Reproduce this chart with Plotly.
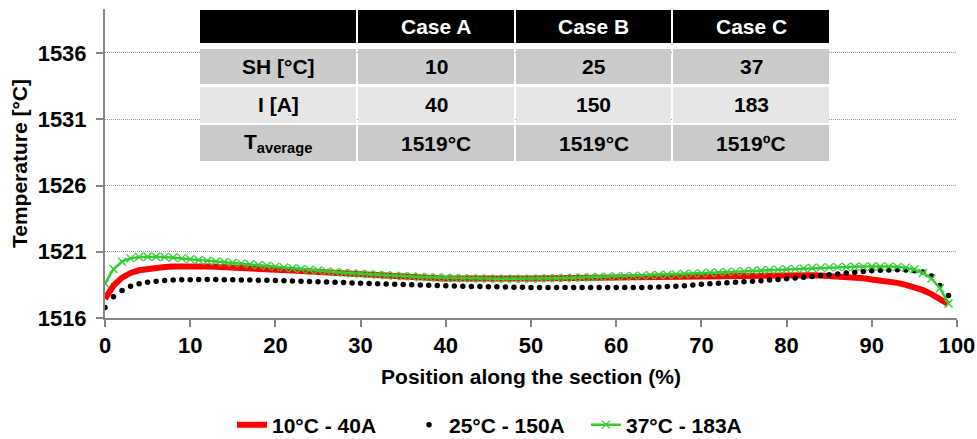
import plotly.graph_objects as go

# ---------------- data ----------------
position = list(range(0, 100))

temp_10C_40A = [
    1517.45, 1518.45, 1519.05, 1519.40, 1519.60, 1519.72, 1519.80, 1519.85, 1519.88, 1519.90,
    1519.90, 1519.90, 1519.88, 1519.86, 1519.84, 1519.82, 1519.79, 1519.76, 1519.73, 1519.70,
    1519.66, 1519.62, 1519.58, 1519.54, 1519.50, 1519.46, 1519.42, 1519.38, 1519.34, 1519.30,
    1519.26, 1519.22, 1519.19, 1519.16, 1519.13, 1519.10, 1519.07, 1519.04, 1519.02, 1519.00,
    1518.98, 1518.97, 1518.96, 1518.95, 1518.95, 1518.95, 1518.95, 1518.96, 1518.97, 1518.98,
    1518.99, 1519.00, 1519.01, 1519.02, 1519.03, 1519.04, 1519.05, 1519.06, 1519.07, 1519.08,
    1519.09, 1519.10, 1519.11, 1519.12, 1519.13, 1519.14, 1519.15, 1519.16, 1519.17, 1519.18,
    1519.19, 1519.20, 1519.21, 1519.22, 1519.23, 1519.24, 1519.25, 1519.25, 1519.26, 1519.26,
    1519.26, 1519.25, 1519.24, 1519.23, 1519.21, 1519.19, 1519.16, 1519.12, 1519.07, 1519.00,
    1518.90, 1518.83, 1518.75, 1518.65, 1518.50, 1518.33, 1518.10, 1517.80, 1517.45, 1517.05,
]

temp_25C_150A = [
    1516.80, 1517.60, 1518.08, 1518.40, 1518.58, 1518.70, 1518.78, 1518.83, 1518.86, 1518.88,
    1518.89, 1518.90, 1518.90, 1518.90, 1518.89, 1518.88, 1518.87, 1518.86, 1518.85, 1518.84,
    1518.83, 1518.81, 1518.79, 1518.77, 1518.75, 1518.73, 1518.71, 1518.69, 1518.67, 1518.65,
    1518.63, 1518.61, 1518.59, 1518.57, 1518.55, 1518.53, 1518.51, 1518.49, 1518.47, 1518.45,
    1518.43, 1518.41, 1518.40, 1518.38, 1518.37, 1518.36, 1518.35, 1518.34, 1518.33, 1518.32,
    1518.31, 1518.30, 1518.30, 1518.30, 1518.30, 1518.30, 1518.30, 1518.30, 1518.30, 1518.30,
    1518.30, 1518.30, 1518.30, 1518.31, 1518.32, 1518.34, 1518.37, 1518.40, 1518.44, 1518.49,
    1518.54, 1518.58, 1518.62, 1518.66, 1518.70, 1518.74, 1518.78, 1518.82, 1518.86, 1518.91,
    1518.96, 1519.02, 1519.08, 1519.14, 1519.20, 1519.27, 1519.33, 1519.39, 1519.45, 1519.51,
    1519.56, 1519.60, 1519.63, 1519.64, 1519.62, 1519.57, 1519.47, 1519.17, 1518.46, 1517.70,
]

temp_37C_183A = [
    1518.60, 1519.70, 1520.25, 1520.50, 1520.60, 1520.62, 1520.62, 1520.60, 1520.56, 1520.50,
    1520.44, 1520.38, 1520.32, 1520.27, 1520.22, 1520.17, 1520.12, 1520.06, 1520.00, 1519.94,
    1519.88, 1519.82, 1519.76, 1519.70, 1519.64, 1519.58, 1519.52, 1519.47, 1519.42, 1519.38,
    1519.34, 1519.30, 1519.26, 1519.22, 1519.19, 1519.16, 1519.13, 1519.10, 1519.08, 1519.06,
    1519.04, 1519.02, 1519.00, 1518.99, 1518.98, 1518.97, 1518.96, 1518.96, 1518.96, 1518.96,
    1518.97, 1518.98, 1518.99, 1519.00, 1519.02, 1519.04, 1519.06, 1519.08, 1519.10, 1519.12,
    1519.14, 1519.16, 1519.18, 1519.20, 1519.22, 1519.24, 1519.26, 1519.29, 1519.32, 1519.35,
    1519.38, 1519.41, 1519.44, 1519.47, 1519.50, 1519.53, 1519.56, 1519.59, 1519.62, 1519.65,
    1519.68, 1519.71, 1519.74, 1519.77, 1519.80, 1519.82, 1519.84, 1519.86, 1519.87, 1519.88,
    1519.89, 1519.89, 1519.88, 1519.86, 1519.80, 1519.68, 1519.40, 1518.98, 1518.25, 1517.10,
]

series_names = ["10°C - 40A", "25°C - 150A", "37°C - 183A"]

x_ticks = [0, 10, 20, 30, 40, 50, 60, 70, 80, 90, 100]
y_ticks = [1516, 1521, 1526, 1531, 1536]

table_header = ["", "Case A", "Case B", "Case C"]
table_rows = [
    ["SH [°C]", "10", "25", "37"],
    ["I [A]", "40", "150", "183"],
    ["T<sub>average</sub>", "1519°C", "1519°C", "1519ºC"],
]

# ---------------- layout constants (pixels) ----------------
W, H = 977, 439
L, R, T, B = 105, 20, 9, 121
PW, PH = W - L - R, H - T - B
FONT = "Liberation Sans, Arial, sans-serif"


def px(xp):
    return (xp - L) / PW


def py(yp):
    return (H - B - yp) / PH


fig = go.Figure()

fig.add_trace(go.Scatter(
    x=position, y=temp_10C_40A, name="<b>" + series_names[0] + "</b>", mode="lines",
    line=dict(color="#ff0000", width=6),
))
fig.add_trace(go.Scatter(
    x=position, y=temp_25C_150A, name="<b>" + series_names[1] + "</b>", mode="markers",
    marker=dict(color="#000000", size=5.5, symbol="circle"),
))
fig.add_trace(go.Scatter(
    x=position, y=temp_37C_183A, name="<b>" + series_names[2] + "</b>", mode="lines+markers",
    line=dict(color="#33cc33", width=2.5),
    marker=dict(color="#33cc33", size=8, symbol="x-thin-open",
                line=dict(color="#33cc33", width=1.3)),
))

# ---------------- table overlay ----------------
col_edges = [(200, 356), (358, 514), (516, 671), (673, 829)]
row_edges = [(10, 43), (49, 84), (87, 123), (125, 161)]
row_fill = ["#000000", "#cbcbcb", "#e6e6e6", "#cbcbcb"]
row_text_color = ["#ffffff", "#000000", "#000000", "#000000"]
all_rows = [table_header] + table_rows

shapes = []
annotations = []
for ri, row in enumerate(all_rows):
    y0p, y1p = row_edges[ri]
    for ci, txt in enumerate(row):
        x0p, x1p = col_edges[ci]
        shapes.append(dict(
            type="rect", xref="paper", yref="paper", layer="above",
            x0=px(x0p), x1=px(x1p), y0=py(y1p), y1=py(y0p),
            fillcolor=row_fill[ri], line=dict(width=0),
        ))
        if txt:
            annotations.append(dict(
                xref="paper", yref="paper", x=px((x0p + x1p) / 2),
                y=py((y0p + y1p) / 2), text="<b>" + txt + "</b>",
                showarrow=False, xanchor="center", yanchor="middle",
                font=dict(family=FONT, size=21, color=row_text_color[ri]),
            ))

fig.update_layout(
    width=W, height=H,
    margin=dict(l=L, r=R, t=T, b=B, pad=0, autoexpand=False),
    paper_bgcolor="white", plot_bgcolor="white",
    font=dict(family=FONT, size=22, color="#000000"),
    shapes=shapes, annotations=annotations,
    showlegend=True,
    legend=dict(
        orientation="h", xref="container", x=232 / W, xanchor="left",
        yref="container", y=1 - 425 / H, yanchor="middle",
        font=dict(family=FONT, size=21, color="#000000"),
        bgcolor="rgba(0,0,0,0)", itemwidth=30,
        entrywidth=132, entrywidthmode="pixels",
    ),
    xaxis=dict(
        range=[0, 100], tickvals=x_ticks, ticktext=[f"<b>{v}</b>" for v in x_ticks],
        showgrid=False, zeroline=False, automargin=False,
        showline=True, linecolor="#868686", linewidth=2,
        ticks="outside", ticklen=7, tickcolor="#868686", tickwidth=1.5,
        ticklabelstandoff=0,
        tickfont=dict(family=FONT, size=22, color="#000000"),
        title=dict(text="<b>Position along the section (%)</b>",
                   font=dict(family=FONT, size=21), standoff=12),
    ),
    yaxis=dict(
        range=[1516, 1539.32], tickvals=y_ticks, ticktext=[f"<b>{v}</b>" for v in y_ticks],
        showgrid=True, gridcolor="#9a9a9a", gridwidth=1, griddash="1px,1px",
        zeroline=False, automargin=False,
        showline=True, linecolor="#868686", linewidth=2,
        ticks="outside", ticklen=7, tickcolor="#868686", tickwidth=1.5,
        ticklabelstandoff=5,
        tickfont=dict(family=FONT, size=22, color="#000000"),
        title=dict(text="<b>Temperature [°C]</b>",
                   font=dict(family=FONT, size=21), standoff=4),
    ),
)

fig.write_html("out.html")
